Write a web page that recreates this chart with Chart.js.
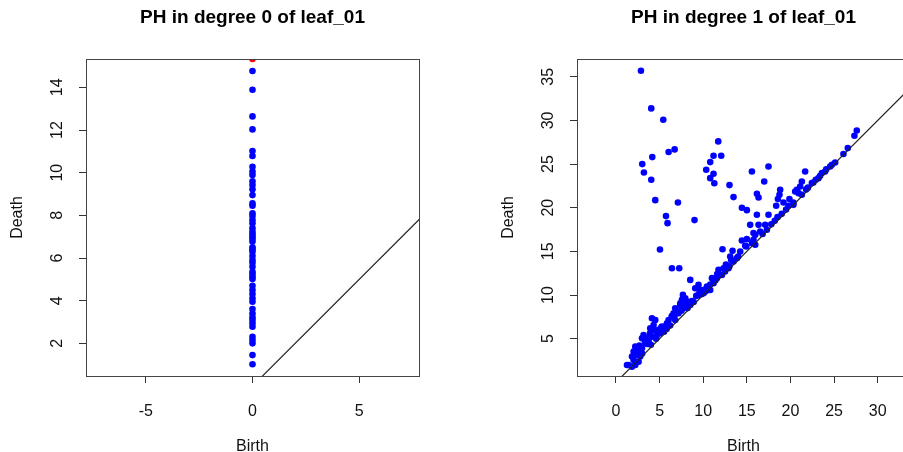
<!DOCTYPE html>
<html><head><meta charset="utf-8">
<script src="https://cdn.jsdelivr.net/npm/chart.js@4/dist/chart.umd.min.js"></script>
<style>
html,body{margin:0;padding:0;background:#fff;}
#wrap{position:relative;width:903px;height:452px;overflow:hidden;background:#fff;}
.box{position:absolute;top:0;width:430px;height:452px;}
</style></head><body>
<div id="wrap">
<div class="box" style="left:0"><canvas id="c0" width="430" height="452"></canvas></div>
<div class="box" style="left:491px"><canvas id="c1" width="430" height="452"></canvas></div>
</div>
<script>
// ---- Data ----
const titles = ['PH in degree 0 of leaf_01', 'PH in degree 1 of leaf_01'];
const xLabel = 'Birth';
const yLabel = 'Death';

// degree 0: all births at 0
const deg0Death = [14.77,13.89,12.64,12.03,11.02,10.78,10.28,10.05,9.89,9.6,9.42,9.22,8.95,8.56,8.45,8.10,7.97,7.78,7.63,7.4,7.23,7.11,7.00,6.9,6.77,6.5,6.41,6.30,6.09,5.91,5.78,5.59,5.36,5.25,5.12,5.02,4.7,4.50,4.31,4.11,3.95,3.61,3.4,3.22,3.09,2.94,2.78,2.31,2.16,2.00,1.45,1.02];
const deg0Birth = deg0Death.map(() => 0);
// essential (infinite) class, drawn at the top of the plot
const deg0InfBirth = [0];
const deg0InfDeath = [15.33];

const deg1Birth = [2.86,4.04,5.42,11.72,6.03,6.72,4.16,3.01,3.2,4.04,11.18,12.06,10.8,10.34,11.18,10.8,11.27,13.01,4.5,7.1,13.47,16.15,16.34,14.43,15.0,5.73,5.91,9.0,16.15,17.48,15.58,17.48,16.99,18.51,5.04,12.21,6.41,7.25,14.93,21.68,18.82,18.74,
27.6,27.33,26.57,26.07,25.12,24.74,24.55,23.97,23.6,23.4,23.21,21.3,22.45,22.63,21.11,20.73,20.54,20.92,21.3,19.88,20.34,18.56,19.2,19.77,20.34,18.36,15.38,16.34,17.1,15.76,16.53,17.3,14.43,15.0,15.76,15.96,15.58,15.96,14.81,13.36,14.24,13.09,13.86,13.47,11.75,12.33,12.9,12.14,11.57,8.51,11.0,11.18,10.42,10.8,9.08,9.66,10.03,9.46,7.67,7.56,8.13,8.51,7.37,6.79,7.74,9.46,10.23,10.61,7.94,7.37,7.74,6.6,7.17,6.41,6.03,6.79,5.84,4.12,4.31,3.93,4.31,4.5,5.27,4.88,5.07,4.7,3.16,2.98,3.55,4.12,3.74,3.36,2.21,2.02,2.59,2.98,2.41,1.83,2.78,2.02,2.59,1.44,2.21,1.83,1.26,
12.5,13.0,14.0,16.8,17.8,18.2,19.0,19.5,22.0,21.8,22.9,24.1,8.9,9.8,10.5,11.4,5.5,6.2,3.0,4.0,8.2,5.8,
2.4,2.7,3.3,3.6,3.9,4.6,4.9,5.2,5.6,6.0,6.4,6.8,7.1,7.5,7.9,8.3,8.7,9.2,9.6,10.1,10.8,11.6,12.6,13.2];
const deg1Death = [35.7,31.38,30.08,27.6,26.38,26.68,25.8,25.0,24.04,23.2,25.95,25.95,25.23,24.35,23.89,23.39,22.8,22.59,20.87,20.6,21.22,21.6,21.17,19.99,19.72,19.04,18.23,18.58,19.19,19.19,24.15,24.72,23.0,18.92,15.21,15.25,13.07,13.07,15.55,24.15,22.05,21.48,
28.85,28.25,26.83,26.15,25.18,24.92,24.72,24.15,23.97,23.66,23.39,23.0,22.82,22.89,22.43,22.05,21.86,21.67,21.48,20.99,20.6,20.99,20.6,20.22,20.33,20.22,18.04,18.04,18.04,17.09,17.27,17.47,16.24,16.4,16.32,16.89,15.94,15.75,15.63,15.06,14.98,14.4,14.22,13.83,12.88,13.07,13.07,12.3,11.93,11.73,11.93,11.35,10.96,10.58,10.78,10.58,10.2,10.01,10.01,9.44,9.24,8.86,8.86,8.49,8.49,11.16,10.39,10.58,9.63,9.06,8.67,7.91,7.91,7.52,7.14,7.14,6.77,7.34,6.57,6.19,6.0,7.14,6.38,6.0,5.62,5.42,5.42,5.05,5.05,5.23,4.66,4.47,4.08,3.51,3.7,3.9,3.13,2.94,2.94,2.56,2.36,1.98,1.98,1.79,1.98,
12.7,13.3,14.4,17.0,18.1,18.5,19.3,19.8,22.3,22.1,23.2,24.4,9.2,10.1,10.9,11.7,5.8,6.5,3.3,4.3,8.5,6.1,
3.6,4.2,4.8,4.4,5.6,5.0,5.9,6.3,6.4,6.6,7.6,7.8,8.1,8.2,8.9,8.9,9.3,9.9,10.4,10.6,11.2,12.4,13.5,14.0];

const xRange0 = [-7.8, 7.8], yRange0 = [0.47, 15.33];
const xRange1 = [-4.47, 33.7], yRange1 = [0.72, 37.04];
const diagEnds = [-50, 50];

// ---- Rendering ----
const FONT = "'Liberation Sans', Arial, Helvetica, sans-serif";
const pts = (xs, ys) => xs.map((x, i) => ({x: x, y: ys[i]}));

const boxPlugin = {
  id: 'box',
  afterDraw(chart) {
    const a = chart.chartArea, ctx = chart.ctx;
    ctx.save();
    ctx.strokeStyle = '#444';
    ctx.lineWidth = 1;
    ctx.strokeRect(Math.round(a.left) + 0.5, Math.round(a.top) + 0.5, Math.round(a.right - a.left), Math.round(a.bottom - a.top));
    ctx.restore();
  }
};

function diagDataset() {
  return {data: pts(diagEnds, diagEnds), showLine: true, borderColor: '#222', borderWidth: 1.2, pointRadius: 0, clip: 0};
}
function pointDataset(data, color) {
  return {data: data, showLine: false, pointRadius: 3.3, pointBackgroundColor: color, pointBorderColor: color, pointBorderWidth: 0, clip: 0};
}

function makeChart(id, title, xr, yr, xStep, yStep, datasets) {
  return new Chart(document.getElementById(id), {
    type: 'scatter',
    data: {datasets: datasets},
    options: {
      responsive: false, animation: false, devicePixelRatio: 1,
      layout: {padding: {left: 0, right: 11, top: 0, bottom: 0}},
      events: [],
      plugins: {
        legend: {display: false}, tooltip: {enabled: false},
        title: {display: true, text: title, fullSize: false, color: '#000',
          font: {family: FONT, size: 19, weight: 'bold', lineHeight: 1.2},
          padding: {top: 6.6, bottom: 29.6}}
      },
      scales: {
        x: {type: 'linear', position: 'bottom', min: xr[0], max: xr[1],
          afterFit(s) { s.height = 76; },
          ticks: {stepSize: xStep, includeBounds: false, autoSkip: false, maxRotation: 0, minRotation: 0,
            color: '#111', font: {family: FONT, size: 16}, padding: 19},
          grid: {display: true, drawOnChartArea: false, drawTicks: true, tickLength: 7, color: '#333', lineWidth: 1},
          border: {display: true, color: '#333', width: 1},
          title: {display: true, text: xLabel, color: '#111', font: {family: FONT, size: 16, lineHeight: 0.7}, padding: {top: 0, bottom: 0}}
        },
        y: {type: 'linear', position: 'left', min: yr[0], max: yr[1],
          afterFit(s) { s.width = 86; },
          ticks: {stepSize: yStep, includeBounds: false, autoSkip: false, minRotation: 90, maxRotation: 90, crossAlign: 'center',
            color: '#111', font: {family: FONT, size: 16}, padding: 13},
          grid: {display: true, drawOnChartArea: false, drawTicks: true, tickLength: 7, color: '#333', lineWidth: 1},
          border: {display: true, color: '#333', width: 1},
          title: {display: true, text: yLabel, color: '#111', font: {family: FONT, size: 16, lineHeight: 1}, padding: {top: 10, bottom: 0}}
        }
      }
    },
    plugins: [boxPlugin]
  });
}

makeChart('c0', titles[0], xRange0, yRange0, 5, 2, [
  diagDataset(),
  pointDataset(pts(deg0InfBirth, deg0InfDeath), '#ff0000'),
  pointDataset(pts(deg0Birth, deg0Death), '#0000ff')
]);
makeChart('c1', titles[1], xRange1, yRange1, 5, 5, [
  diagDataset(),
  pointDataset(pts(deg1Birth, deg1Death), '#0000ff')
]);
</script>
</body></html>
